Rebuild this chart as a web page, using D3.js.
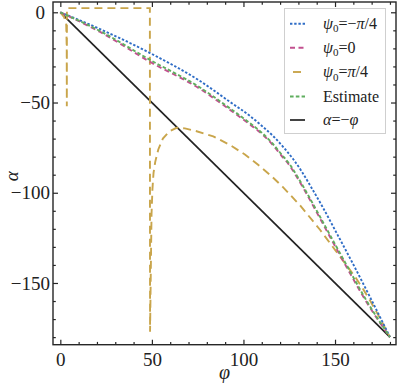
<!DOCTYPE html>
<html><head><meta charset="utf-8">
<script src="https://cdn.jsdelivr.net/npm/d3@7"></script>
<style>
body{margin:0;background:#fff;}
svg{display:block;}
</style></head>
<body>
<svg id="chart" width="399" height="383"></svg>
<script>
// ---- data (phi in degrees, alpha in degrees) ----
const seriesNames = ["psi0 = -pi/4", "psi0 = 0", "psi0 = pi/4", "Estimate", "alpha = -phi"];
const psiMinusQuarter = [[0,0],[21.7,-9.3],[49.0,-22.6],[76.3,-38.1],[92.7,-49.7],[103.6,-57.5],[110.1,-63.0],[116.7,-69.1],[122.2,-75.2],[127.1,-81.3],[132.0,-88.5],[136.9,-96.8],[142.9,-107.3],[150.6,-121.8],[159.3,-138.4],[169.1,-157.8],[180,-180]];
const psiZero = [[0,0],[21.7,-10.9],[49.0,-27.5],[76.3,-42.5],[92.7,-54.1],[103.6,-62.2],[110.1,-67.4],[115.6,-73.0],[120.5,-79.1],[125.4,-85.2],[129.8,-92.4],[134.2,-100.1],[139.6,-110.1],[147.3,-124.5],[156.6,-141.7],[167.5,-161.1],[180,-180]];
const psiQuarter = [[0,0],[2,-2.5],[3.2,-6],[3.5,-20],[3.55,-52],[3.6,2.3],[48.9,2.3],[49.0,-177],[49.8,-112],[50.3,-98],[50.9,-89],[51.8,-83],[53.5,-76],[56,-70],[59.5,-66],[63.5,-64],[68,-64.3],[74,-65.8],[83.5,-68.8],[92.6,-73.5],[100.8,-78.8],[108,-84.5],[115,-90.5],[121.7,-97],[130.9,-107],[141.8,-120.5],[153.6,-136.5],[160.9,-146.5],[165.4,-153.5],[169,-159.5],[174,-168.5],[180,-180]];
const estimate = [[0,0],[21.7,-10.4],[49.0,-26.4],[76.3,-41.7],[92.7,-53.3],[103.6,-61.5],[110.1,-66.8],[115.6,-72.4],[120.5,-78.4],[125.4,-84.5],[129.8,-91.6],[134.2,-99.3],[139.6,-109.2],[147.3,-123.5],[156.6,-140.6],[167.5,-160.3],[180,-180]];
const referenceLine = [[0,0],[180,-180]];
const xMajorTicks = [0,50,100,150];
const xMinorTicks = [10,20,30,40,60,70,80,90,110,120,130,140,160,170,180];
const yMajorTicks = [0,-50,-100,-150];
const yMinorTicks = [-10,-20,-30,-40,-60,-70,-80,-90,-110,-120,-130,-140,-160,-170,-180];

const FONT = '"Liberation Serif", "Times New Roman", Tinos, Times, "DejaVu Serif", "Noto Serif", serif';

const svg = d3.select("#chart");
const L = 53, R = 396, T = 2, B = 344.7;
const x = d3.scaleLinear().domain([-4, 183.3]).range([L, R]);
const y = d3.scaleLinear().domain([-184.2, 5.7]).range([B, T]);

const axisColor = "#262626";

svg.append("clipPath").attr("id","clip").append("rect")
  .attr("x",L).attr("y",T).attr("width",R-L).attr("height",B-T);

const line = d3.line().x(d=>x(d[0])).y(d=>y(d[1]));
const smooth = d3.line().x(d=>x(d[0])).y(d=>y(d[1])).curve(d3.curveMonotoneX);

const styles = [
  {data: psiMinusQuarter, color:"#2f6dc6", dash:"2.4,1.8", w:1.9, gen: smooth},
  {data: psiZero, color:"#c2508f", dash:"5,3.5", w:1.9, gen: smooth},
  {data: psiQuarter, color:"#c9a54b", dash:"8,5", w:1.9, gen: line},
  {data: estimate, color:"#5fae5e", dash:"3.6,2.2", w:1.9, gen: smooth},
  {data: referenceLine, color:"#222222", dash:null, w:1.7, gen: line}
];

const g = svg.append("g").attr("clip-path","url(#clip)");
[4,2,0,1,3].forEach(i=>{
  const s = styles[i];
  g.append("path").attr("d", s.gen(s.data)).attr("fill","none")
    .attr("stroke", s.color).attr("stroke-width", s.w)
    .attr("stroke-dasharray", s.dash);
});

function styleAxis(sel){
  sel.select(".domain").remove();
  sel.attr("font-family", null);
  sel.selectAll("line").attr("stroke",axisColor).attr("stroke-width",1.2);
  sel.selectAll("text").style("font-family",FONT).style("font-size","19px").attr("fill","#222");
}
const fmt = d3.format("");
svg.append("g").attr("transform",`translate(0,${B})`)
  .call(d3.axisBottom(x).tickValues(xMajorTicks).tickSize(-5).tickPadding(7.5).tickFormat(fmt)).call(styleAxis);
svg.append("g").attr("transform",`translate(0,${B})`)
  .call(d3.axisBottom(x).tickValues(xMinorTicks).tickSize(-2.8).tickFormat("")).call(styleAxis);
svg.append("g").attr("transform",`translate(0,${T})`)
  .call(d3.axisTop(x).tickValues(xMajorTicks).tickSize(-5).tickFormat("")).call(styleAxis);
svg.append("g").attr("transform",`translate(0,${T})`)
  .call(d3.axisTop(x).tickValues(xMinorTicks).tickSize(-2.8).tickFormat("")).call(styleAxis);
const yAx = svg.append("g").attr("transform",`translate(${L},0)`)
  .call(d3.axisLeft(y).tickValues(yMajorTicks).tickSize(-5).tickPadding(3).tickFormat(fmt)).call(styleAxis);
yAx.selectAll(".tick text").filter(d=>d===0).attr("dx",-5);
svg.append("g").attr("transform",`translate(${L},0)`)
  .call(d3.axisLeft(y).tickValues(yMinorTicks).tickSize(-2.8).tickFormat("")).call(styleAxis);
svg.append("g").attr("transform",`translate(${R},0)`)
  .call(d3.axisRight(y).tickValues(yMajorTicks).tickSize(-5).tickFormat("")).call(styleAxis);
svg.append("g").attr("transform",`translate(${R},0)`)
  .call(d3.axisRight(y).tickValues(yMinorTicks).tickSize(-2.8).tickFormat("")).call(styleAxis);

svg.append("rect").attr("x",L).attr("y",T).attr("width",R-L).attr("height",B-T)
  .attr("fill","none").attr("stroke",axisColor).attr("stroke-width",1.4);

svg.append("text").attr("x",(L+R)/2).attr("y",379).attr("text-anchor","middle")
  .style("font-family",FONT).style("font-size","20px").style("font-style","italic").attr("fill","#222").text("φ");
svg.append("text").attr("transform",`translate(18,${(T+B)/2+3}) rotate(-90)`).attr("text-anchor","middle")
  .style("font-family",FONT).style("font-size","19px").style("font-style","italic").attr("fill","#222").text("α");

// legend
const lg = svg.append("g");
lg.append("rect").attr("x",284.5).attr("y",8.5).attr("width",101).attr("height",125)
  .attr("fill","#fff").attr("stroke","#cfcfcf").attr("stroke-width",1);
const rowY = [23.7, 47.7, 72, 96.5, 120];
const lx0 = 290, lx1 = 305, tx = 323;
styles.forEach((s,i)=>{
  const yy = rowY[i];
  let a = lx0, b = lx1, dash = s.dash;
  if(i===2){ a = 293; b = 301; dash = null; }
  lg.append("line").attr("x1",a).attr("x2",b).attr("y1",yy).attr("y2",yy)
    .attr("stroke",s.color).attr("stroke-width",s.w).attr("stroke-dasharray",dash);
});
function legendText(i, parts){
  const t = lg.append("text").attr("x",tx).attr("y",rowY[i]+5)
    .style("font-family",FONT).style("font-size","16px").attr("fill","#222");
  parts.forEach(p=>{
    const ts = t.append("tspan").text(p.t);
    if(p.it) ts.style("font-style","italic");
    if(p.sub) ts.style("font-size","11px").attr("dy",3.5);
    if(p.up) ts.attr("dy",-3.5);
  });
}
legendText(0,[{t:"ψ",it:1},{t:"0",sub:1},{t:"=−",up:1},{t:"π",it:1},{t:"/4"}]);
legendText(1,[{t:"ψ",it:1},{t:"0",sub:1},{t:"=0",up:1}]);
legendText(2,[{t:"ψ",it:1},{t:"0",sub:1},{t:"=",up:1},{t:"π",it:1},{t:"/4"}]);
legendText(3,[{t:"Estimate"}]);
legendText(4,[{t:"α",it:1},{t:"=−"},{t:"φ",it:1}]);
</script>
</body></html>
